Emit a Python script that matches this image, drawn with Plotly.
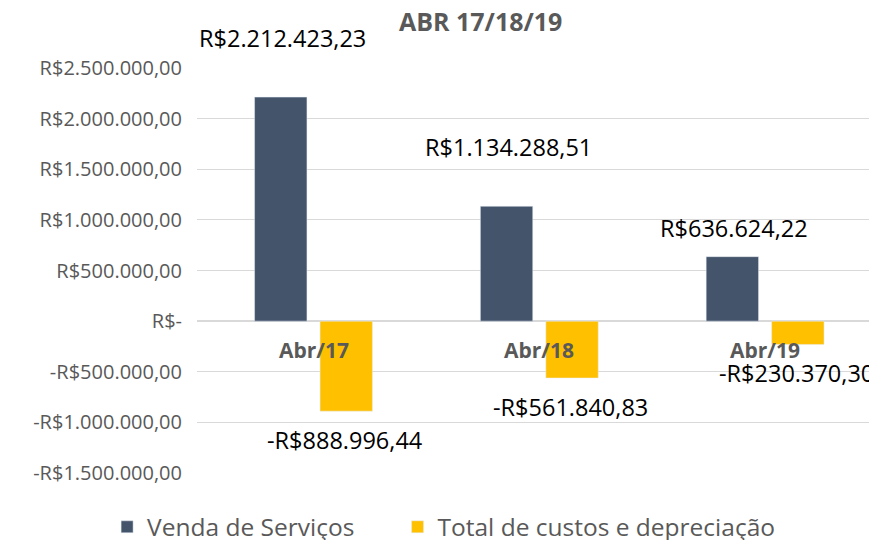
import plotly.graph_objects as go

categories = ["Abr/17", "Abr/18", "Abr/19"]
vendas = [2212423.23, 1134288.51, 636624.22]
custos = [-888996.44, -561840.83, -230370.30]
vendas_labels = ["R$2.212.423,23", "R$1.134.288,51", "R$636.624,22"]
custos_labels = ["-R$888.996,44", "-R$561.840,83", "-R$230.370,30"]
tick_vals = [2500000, 2000000, 1500000, 1000000, 500000, 0, -500000, -1000000, -1500000]
tick_text = ["R$2.500.000,00", "R$2.000.000,00", "R$1.500.000,00", "R$1.000.000,00",
             "R$500.000,00", "R$-", "-R$500.000,00", "-R$1.000.000,00", "-R$1.500.000,00"]

NAVY = "#44546A"
YELLOW = "#FFC000"
GRAY = "#595959"
FONT = "Open Sans"
PAD = "\u00a0" * 6

fig = go.Figure()
fig.add_trace(go.Bar(name="Venda de Serviços" + PAD, x=categories, y=vendas, marker_color=NAVY))
fig.add_trace(go.Bar(name="Total de custos e depreciação", x=categories, y=custos, marker_color=YELLOW))

# data labels (Excel-style positions)
v_yshift = [59, 59, 29]
for c, v, t, ys in zip(categories, vendas, vendas_labels, v_yshift):
    fig.add_annotation(x=c, y=v, text=t, showarrow=False, xshift=-31, yshift=ys,
                       font=dict(family=FONT, size=23.5, color="black"))
for c, v, t in zip(categories, custos, custos_labels):
    fig.add_annotation(x=c, y=v, text=t, showarrow=False, xshift=31, yshift=-29,
                       font=dict(family=FONT, size=23.5, color="black"))
# category labels inside the plot
for c in categories:
    fig.add_annotation(x=c, y=-290000, text="<b>" + c + "</b>", showarrow=False,
                       font=dict(family=FONT, size=21, color=GRAY))

fig.update_layout(
    width=877, height=540,
    paper_bgcolor="white", plot_bgcolor="white",
    margin=dict(l=189, r=7, t=60, b=75, autoexpand=False),
    barmode="group", bargap=0.42, bargroupgap=0.2,
    title=dict(text="<b>ABR 17/18/19</b>", x=0.539, xanchor="center", y=0.974, yanchor="middle",
               font=dict(family=FONT, size=25, color=GRAY)),
    legend=dict(orientation="h", x=-0.132, xanchor="left", y=-0.133, yanchor="middle",
                font=dict(family=FONT, size=24.5, color=GRAY), itemwidth=30,
                traceorder="normal"),
    showlegend=True,
)
fig.update_xaxes(showticklabels=False, showline=False, showgrid=False, ticks="", automargin=False)
fig.update_yaxes(range=[-1500000, 2500000], tickvals=tick_vals, ticktext=tick_text,
                 showgrid=True, gridcolor="#D9D9D9", gridwidth=1,
                 zeroline=True, zerolinecolor="#D9D9D9", zerolinewidth=2, automargin=False,
                 tickfont=dict(family=FONT, size=20, color=GRAY), ticks="", ticklabelstandoff=14)

fig.write_html("out.html")
